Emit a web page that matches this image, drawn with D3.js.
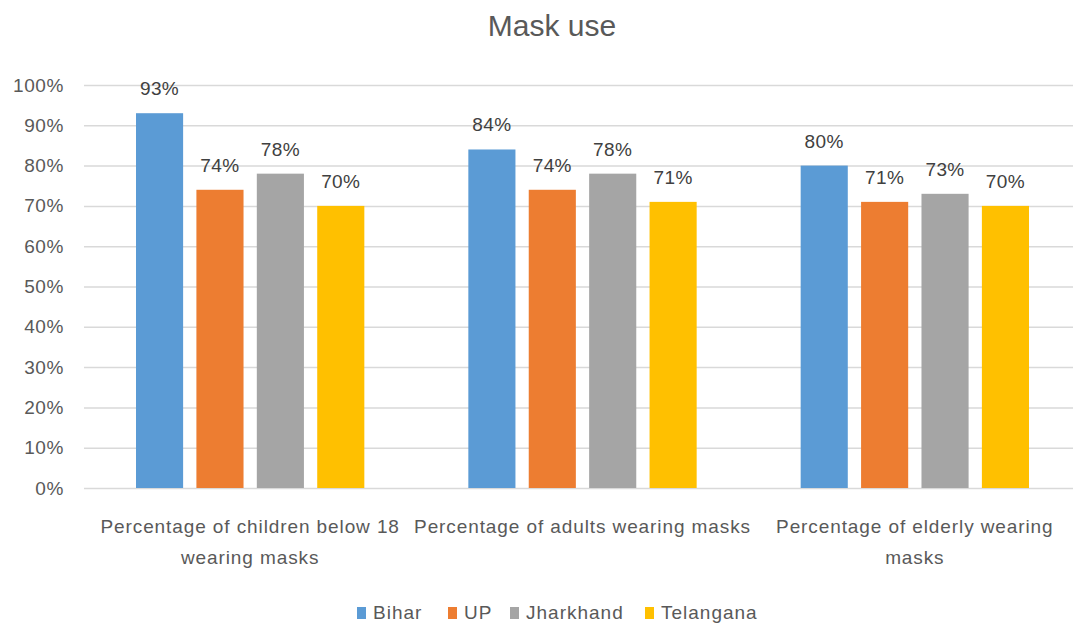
<!DOCTYPE html>
<html>
<head>
<meta charset="utf-8">
<script src="https://cdn.jsdelivr.net/npm/d3@7"></script>
<style>
  html, body { margin: 0; padding: 0; background: #fff; }
  svg { display: block; font-family: "Liberation Sans", Arial, sans-serif; }
</style>
</head>
<body>
<svg id="chart" width="1073" height="625"></svg>
<script>
// Chart data
const title = "Mask use";
const categories = [
  ["Percentage of children below 18", "wearing masks"],
  ["Percentage of adults wearing masks"],
  ["Percentage of elderly wearing", "masks"]
];
const seriesNames = ["Bihar", "UP", "Jharkhand", "Telangana"];
const bihar = [93, 84, 80];
const up = [74, 74, 71];
const jharkhand = [78, 78, 73];
const telangana = [70, 71, 70];
const yTicks = [0, 10, 20, 30, 40, 50, 60, 70, 80, 90, 100];

const seriesValues = [bihar, up, jharkhand, telangana];
const colors = ["#5b9bd5", "#ed7d31", "#a5a5a5", "#ffc000"];
const textColor = "#595959";

const svg = d3.select("#chart");
const plot = { left: 84, right: 1081, top: 85, bottom: 488 };

const x0 = d3.scaleBand()
  .domain(d3.range(categories.length))
  .range([plot.left, plot.right])
  .paddingInner(0).paddingOuter(0);

const x1 = d3.scaleBand()
  .domain(seriesNames)
  .range([52, x0.bandwidth() - 52])
  .paddingInner(0.22).paddingOuter(0);

const y = d3.scaleLinear().domain([0, 100]).range([plot.bottom, plot.top]);

// Title
svg.append("text")
  .attr("x", 552).attr("y", 36)
  .attr("text-anchor", "middle")
  .attr("font-size", 30)
  .attr("fill", textColor)
  .text(title);

// Gridlines and y axis labels
const yAxis = d3.axisLeft(y)
  .tickValues(yTicks)
  .tickSize(-(plot.right - plot.left))
  .tickPadding(20)
  .tickFormat(d => d + "%");

const gy = svg.append("g")
  .attr("transform", `translate(${plot.left},0)`)
  .call(yAxis);
gy.select(".domain").remove();
gy.selectAll(".tick line").attr("stroke", "#d9d9d9").attr("stroke-width", 1.5);
gy.selectAll(".tick text")
  .attr("font-size", 19)
  .attr("letter-spacing", 0.6)
  .attr("font-family", "'Liberation Sans', Arial, sans-serif")
  .attr("fill", textColor);

// Bars
const groups = svg.append("g").selectAll("g")
  .data(categories.map((c, i) => i))
  .join("g")
  .attr("transform", i => `translate(${x0(i)},0)`);

groups.selectAll("rect")
  .data(i => seriesNames.map((s, k) => ({ s, k, v: seriesValues[k][i] })))
  .join("rect")
  .attr("x", d => x1(d.s))
  .attr("width", x1.bandwidth())
  .attr("y", d => y(d.v))
  .attr("height", d => y(0) - y(d.v))
  .attr("fill", d => colors[d.k]);

// Value labels
groups.selectAll("text.val")
  .data(i => seriesNames.map((s, k) => ({ s, k, v: seriesValues[k][i] })))
  .join("text")
  .attr("class", "val")
  .attr("x", d => x1(d.s) + x1.bandwidth() / 2)
  .attr("y", d => y(d.v) - 18)
  .attr("text-anchor", "middle")
  .attr("font-size", 19)
  .attr("letter-spacing", 0.4)
  .attr("fill", "#404040")
  .text(d => d.v + "%");

// Category labels
const cat = svg.append("g").selectAll("text")
  .data(categories)
  .join("text")
  .attr("x", (d, i) => x0(i) + x0.bandwidth() / 2)
  .attr("y", 533)
  .attr("text-anchor", "middle")
  .attr("font-size", 19)
  .attr("letter-spacing", 0.9)
  .attr("fill", textColor);
cat.selectAll("tspan")
  .data(d => d)
  .join("tspan")
  .attr("x", function () { return this.parentNode.getAttribute("x"); })
  .attr("dy", (d, j) => j === 0 ? 0 : 31)
  .text(d => d);

// Legend
const legendX = [357, 448, 510, 645];
const legend = svg.append("g").selectAll("g")
  .data(seriesNames)
  .join("g")
  .attr("transform", (d, k) => `translate(${legendX[k]},607)`);
legend.append("rect")
  .attr("width", 9).attr("height", 12)
  .attr("fill", (d, k) => colors[k]);
legend.append("text")
  .attr("x", 16).attr("y", 12)
  .attr("font-size", 19)
  .attr("letter-spacing", 1)
  .attr("fill", textColor)
  .text(d => d);
</script>
</body>
</html>
